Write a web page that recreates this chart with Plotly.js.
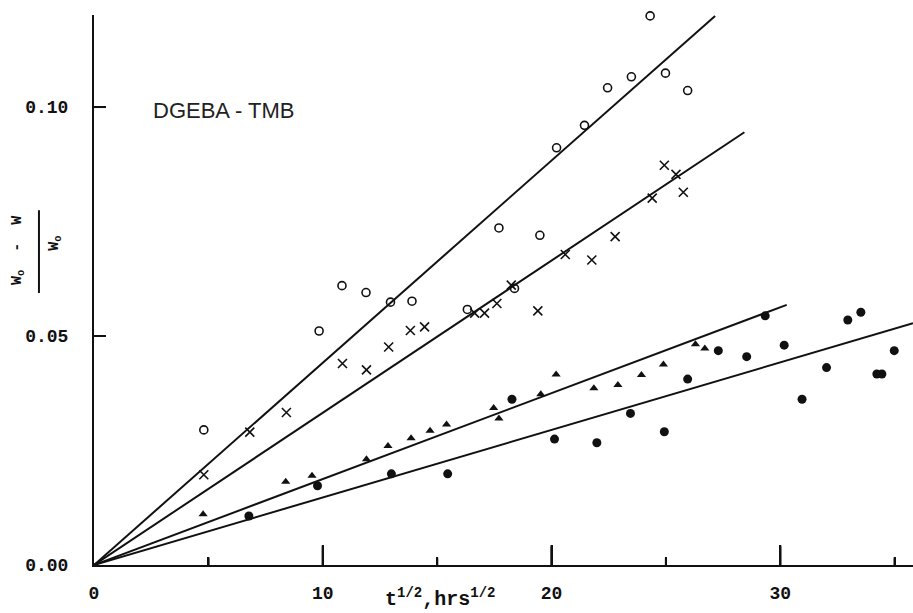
<!DOCTYPE html>
<html>
<head>
<meta charset="utf-8">
<script src="https://cdn.plot.ly/plotly-3.0.1.min.js"></script>
<style>
html,body{margin:0;padding:0;background:#fff;}
#chart{width:913px;height:613px;}
</style>
</head>
<body>
<div id="chart"></div>
<script>
// Open circles
const openX = [4.80, 9.84, 10.84, 11.89, 12.96, 13.90, 16.32, 18.38, 17.70, 19.49, 20.22, 21.44, 22.45, 23.49, 24.31, 24.98, 25.95];
const openY = [0.0295, 0.0511, 0.0610, 0.0595, 0.0574, 0.0576, 0.0558, 0.0604, 0.0736, 0.0720, 0.0911, 0.0960, 0.1042, 0.1066, 0.1199, 0.1074, 0.1036];
// X markers
const crossX = [4.80, 6.81, 8.41, 10.86, 11.91, 12.88, 13.83, 14.45, 16.64, 17.07, 17.61, 18.24, 19.40, 20.60, 21.76, 22.78, 24.40, 24.93, 25.44, 25.76];
const crossY = [0.0197, 0.0290, 0.0333, 0.0440, 0.0426, 0.0476, 0.0512, 0.0520, 0.0550, 0.0550, 0.0571, 0.0611, 0.0555, 0.0678, 0.0666, 0.0717, 0.0801, 0.0873, 0.0853, 0.0814];
// Filled triangles
const triX = [4.77, 8.38, 9.53, 11.91, 12.85, 13.86, 14.69, 15.41, 17.47, 17.70, 19.53, 20.20, 21.85, 22.90, 23.93, 24.89, 26.29, 26.70];
const triY = [0.0111, 0.0182, 0.0195, 0.0231, 0.0260, 0.0277, 0.0293, 0.0307, 0.0343, 0.0320, 0.0373, 0.0416, 0.0386, 0.0393, 0.0415, 0.0438, 0.0482, 0.0473];
// Filled circles
const dotX = [6.77, 9.77, 13.00, 15.46, 18.27, 20.13, 21.98, 23.45, 24.93, 25.95, 27.29, 28.53, 29.34, 30.17, 30.95, 32.02, 32.95, 33.52, 34.22, 34.44, 34.98];
const dotY = [0.0107, 0.0173, 0.0199, 0.0199, 0.0362, 0.0275, 0.0267, 0.0331, 0.0291, 0.0406, 0.0468, 0.0455, 0.0544, 0.0480, 0.0362, 0.0431, 0.0535, 0.0552, 0.0417, 0.0417, 0.0468];
// Fitted straight lines through origin (start and end)
const fitOpenX = [0, 27.15],  fitOpenY = [0, 0.1199];
const fitCrossX = [0, 28.43], fitCrossY = [0, 0.0945];
const fitTriX = [0, 30.28],   fitTriY = [0, 0.0568];
const fitDotX = [0, 35.8],    fitDotY = [0, 0.0528];
// Tick labels
const xTickVals = [0, 10, 20, 30];
const xTickText = ['0', '10', '20', '30'];
const xMinorVals = [5, 15, 25, 35];
const yTickVals = [0, 0.05, 0.10];
const yTickText = ['0.00', '0.05', '0.10'];

const INK = '#111';
const mono = 'Liberation Mono, Courier New, monospace';
const X_RANGE = [0, 35.8];
const Y_RANGE = [0, 0.1201];

function fit(x, y) {
  return {x: x, y: y, mode: 'lines', line: {color: INK, width: 2}, hoverinfo: 'skip', showlegend: false, cliponaxis: false};
}

// Inward tick marks: one small line trace per tick (lengths converted through the axis ranges)
const plotW = 913 - 94, plotH = 613 - 15 - 48;
const yPerPx = (Y_RANGE[1] - Y_RANGE[0]) / plotH;
const xPerPx = (X_RANGE[1] - X_RANGE[0]) / plotW;
const tickTraces = [];
xTickVals.filter(v => v > 0).forEach(v => tickTraces.push(fit([v, v], [0, 20 * yPerPx])));
xMinorVals.forEach(v => tickTraces.push(fit([v, v], [0, 8 * yPerPx])));
yTickVals.filter(v => v > 0).forEach(v => tickTraces.push(fit([0, 12 * xPerPx], [v, v])));

// Same ticks as annotation arrows (pixel lengths, anchored at axis values)
const tickArrows = [];
xTickVals.filter(v => v > 0).forEach(v => tickArrows.push({xref: 'x', yref: 'y', x: v, y: 0, ax: 0, ay: -20,
  axref: 'pixel', ayref: 'pixel', text: '', showarrow: true, arrowhead: 0, arrowwidth: 2, arrowcolor: INK, standoff: 0, startstandoff: 0}));
xMinorVals.forEach(v => tickArrows.push({xref: 'x', yref: 'y', x: v, y: 0, ax: 0, ay: -8,
  axref: 'pixel', ayref: 'pixel', text: '', showarrow: true, arrowhead: 0, arrowwidth: 2, arrowcolor: INK, standoff: 0, startstandoff: 0}));
yTickVals.filter(v => v > 0).forEach(v => tickArrows.push({xref: 'x', yref: 'y', x: 0, y: v, ax: 12, ay: 0,
  axref: 'pixel', ayref: 'pixel', text: '', showarrow: true, arrowhead: 0, arrowwidth: 2, arrowcolor: INK, standoff: 0, startstandoff: 0}));

const traces = [
  fit(fitOpenX, fitOpenY), fit(fitCrossX, fitCrossY), fit(fitTriX, fitTriY), fit(fitDotX, fitDotY),
  {x: openX, y: openY, mode: 'markers', cliponaxis: false, showlegend: false,
   marker: {symbol: 'circle-open', size: 8, color: INK, line: {color: INK, width: 1.6}}},
  {x: crossX, y: crossY, mode: 'markers', cliponaxis: false, showlegend: false,
   marker: {symbol: 'x-thin-open', size: 9, color: INK, line: {color: INK, width: 1.6}}},
  {x: triX, y: triY, mode: 'markers', cliponaxis: false, showlegend: false,
   marker: {symbol: 'triangle-up', size: 8, color: INK, line: {width: 0}}},
  {x: dotX, y: dotY, mode: 'markers', cliponaxis: false, showlegend: false,
   marker: {symbol: 'circle', size: 9, color: INK, line: {width: 0}}}
].concat(tickTraces);

const layout = {
  width: 913, height: 613,
  margin: {l: 94, r: 0, t: 15, b: 48},
  paper_bgcolor: '#fff', plot_bgcolor: '#fff',
  showlegend: false,
  xaxis: {
    range: X_RANGE, showgrid: false, zeroline: false,
    showline: true, linecolor: INK, linewidth: 2,
    tickmode: 'array', tickvals: xTickVals, ticktext: xTickText,
    ticks: 'inside', ticklen: 20, tickwidth: 2, tickcolor: INK,
    minor: {tickmode: 'array', tickvals: xMinorVals, ticks: 'inside', ticklen: 8, tickwidth: 2, tickcolor: INK, showgrid: false},
    tickfont: {family: mono, size: 18, color: INK, weight: 'bold'},
    ticklabelstandoff: 10
  },
  yaxis: {
    range: Y_RANGE, showgrid: false, zeroline: false,
    showline: true, linecolor: INK, linewidth: 2,
    tickmode: 'array', tickvals: yTickVals, ticktext: yTickText,
    ticks: 'inside', ticklen: 12, tickwidth: 2, tickcolor: INK,
    tickfont: {family: mono, size: 18, color: INK, weight: 'bold'},
    ticklabelstandoff: 20
  },
  annotations: [
    {xref: 'x', yref: 'y', x: 2.5, y: 0.0993, xanchor: 'left', yanchor: 'middle', showarrow: false,
     text: 'DGEBA - TMB', font: {family: 'Liberation Sans, Arial, sans-serif', size: 22, color: '#222'}},
    {xref: 'paper', yref: 'paper', x: 0.422, y: -0.06, xanchor: 'center', yanchor: 'middle', showarrow: false,
     text: 't<sup>1/2</sup>,hrs<sup>1/2</sup>', font: {family: mono, size: 20, color: INK, weight: 'bold'}},
    {xref: 'paper', yref: 'paper', x: -0.092, y: 0.572, xanchor: 'center', yanchor: 'middle', showarrow: false,
     textangle: -90, text: 'W<sub>o</sub>  -  W', font: {family: mono, size: 15, color: INK, weight: 'bold'}},
    {xref: 'paper', yref: 'paper', x: -0.047, y: 0.585, xanchor: 'center', yanchor: 'middle', showarrow: false,
     textangle: -90, text: 'W<sub>o</sub>', font: {family: mono, size: 15, color: INK, weight: 'bold'}}
  ].concat(tickArrows),
  shapes: [
    {type: 'line', xref: 'paper', yref: 'paper', x0: -0.0672, x1: -0.0672, y0: 0.645, y1: 0.4945,
     line: {color: INK, width: 2}}
  ]
};

Plotly.newPlot('chart', traces, layout, {displayModeBar: false});
</script>
</body>
</html>
